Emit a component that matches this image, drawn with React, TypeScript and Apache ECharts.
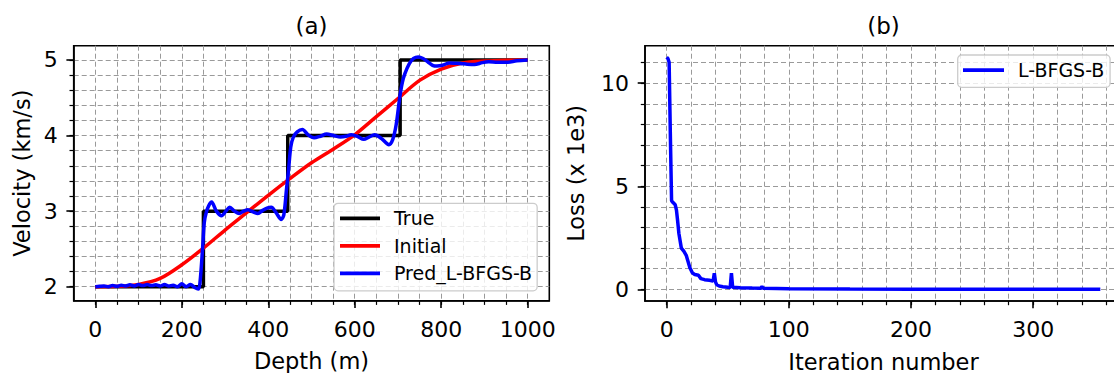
import React, { useEffect, useRef } from "react";
import * as echarts from "echarts";

// ---------- data ----------
const depthTrue = [0, 250, 250, 445, 445, 705, 705, 1000];
const velTrue = [2, 2, 3, 3, 4, 4, 5, 5];

const depthInit = [0, 50, 100, 150, 200, 250, 300, 350, 400, 450, 500, 550, 600, 650, 700, 750, 800, 850, 900, 950, 1000];
const velInit = [2.0, 2.005, 2.03, 2.11, 2.29, 2.51, 2.75, 2.98, 3.21, 3.43, 3.64, 3.82, 4.01, 4.25, 4.49, 4.73, 4.88, 4.96, 4.985, 4.997, 5.0];

const depthPred = [0, 10, 20, 30, 40, 50, 60, 70, 80, 90, 100, 110, 120, 130, 140, 150, 160, 170, 180, 190, 200, 210, 220, 230, 238, 242, 248, 252, 257, 263, 269, 280, 292, 302, 311, 322, 333, 343, 353, 365, 376, 387, 397, 407, 418, 430, 436, 442, 447, 452, 458, 467, 479, 492, 506, 520, 535, 551, 567, 580, 592, 606, 621, 633, 646, 662, 679, 688, 696, 704, 710, 716, 726, 736, 747, 758, 770, 780, 790, 803, 819, 844, 860, 877, 895, 910, 930, 951, 975, 1000];
const velPred = [2.0, 2.005, 2.01, 2.0, 2.015, 2.005, 2.02, 2.01, 2.025, 2.01, 2.03, 2.015, 2.03, 2.015, 2.025, 2.01, 2.03, 2.01, 2.02, 2.0, 2.04, 2.0, 2.03, 1.99, 1.97, 2.05, 2.5, 2.85, 2.99, 3.08, 3.12, 3.0, 2.94, 3.0, 3.05, 3.0, 2.97, 3.0, 3.02, 2.99, 2.97, 3.01, 3.04, 3.05, 2.98, 2.89, 2.95, 3.28, 3.55, 3.85, 3.98, 4.05, 4.08, 4.01, 3.97, 3.99, 4.02, 4.0, 3.98, 3.99, 4.01, 3.99, 3.95, 3.98, 4.01, 3.96, 3.88, 3.95, 4.15, 4.5, 4.7, 4.82, 4.95, 5.02, 5.04, 5.02, 4.97, 4.93, 4.92, 4.93, 4.96, 4.955, 4.945, 4.94, 4.965, 4.975, 4.97, 4.97, 4.99, 5.0];

const iterations = [0, 1, 2, 3, 4, 5, 7, 8, 9, 10, 12, 14, 16, 17, 19, 21, 23, 26, 28, 31, 35, 38, 39, 40, 41, 43, 46, 50, 52, 53, 54, 60, 70, 77, 78, 79, 90, 100, 150, 200, 250, 300, 355];
const loss = [11.26, 11.2, 11.02, 7.5, 4.3, 4.22, 4.1, 3.84, 3.3, 2.71, 2.0, 1.85, 1.65, 1.45, 1.05, 0.8, 0.72, 0.68, 0.52, 0.47, 0.44, 0.4, 0.78, 0.35, 0.22, 0.16, 0.13, 0.1, 0.09, 0.78, 0.1, 0.08, 0.06, 0.05, 0.13, 0.05, 0.04, 0.03, 0.015, 0.01, 0.008, 0.005, 0.004];

// major tick labels
const xTicksA = [0, 200, 400, 600, 800, 1000];
const yTicksA = [2, 3, 4, 5];
const xTicksB = [0, 100, 200, 300];
const yTicksB = [0, 5, 10];

// minor tick / grid positions (start, stop, step)
const range = (a: number, b: number, s: number) => {
  const out: number[] = [];
  for (let i = 0; a + i * s <= b + 1e-9; i++) out.push(Math.round((a + i * s) * 1000) / 1000);
  return out;
};
const xMinorA = range(0, 1000, 50);
const yMinorA = range(2, 5, 0.2);
const xMinorB = range(0, 360, 20);
const yMinorB = range(0, 11, 1);

// ---------- styles ----------
const FONT = "DejaVu Sans";
const TICK_FS = 22;
const LABEL_FS = 22.5;
const TITLE_FS = 23;
const LEGEND_FS = 19;
const LW = 3.5;

const zip = (xs: number[], ys: number[]) => xs.map((x, i) => [x, ys[i]]);

function mainAxis(o: {
  gridIndex: number; min: number; max: number; ticks: number[];
  name: string; nameGap: number; position: string; margin: number;
}) {
  return {
    type: "value",
    gridIndex: o.gridIndex,
    position: o.position,
    min: o.min,
    max: o.max,
    axisLine: { show: true, onZero: false, lineStyle: { color: "#000", width: 1.6 } },
    axisTick: { show: true, customValues: o.ticks, length: 7.3, lineStyle: { color: "#000", width: 1.6 } },
    axisLabel: {
      show: true, customValues: o.ticks, margin: o.margin, color: "#000", fontSize: TICK_FS, fontFamily: FONT,
      formatter: (v: number) => String(v),
    },
    splitLine: { show: false },
    name: o.name,
    nameLocation: "middle",
    nameGap: o.nameGap,
    nameTextStyle: { color: "#000", fontSize: LABEL_FS, fontFamily: FONT },
  };
}

function minorAxis(o: { gridIndex: number; min: number; max: number; ticks: number[]; position: string }) {
  return {
    type: "value",
    gridIndex: o.gridIndex,
    position: o.position,
    min: o.min,
    max: o.max,
    axisLine: { show: false, onZero: false },
    axisTick: { show: true, customValues: o.ticks, length: 4.2, lineStyle: { color: "#000", width: 1.2 } },
    axisLabel: { show: false },
    splitLine: { show: true, lineStyle: { color: "#9a9a9a", width: 1, type: [5, 3] } },
  };
}

const legendBase = {
  orient: "vertical",
  icon: "rect",
  itemWidth: 40,
  itemHeight: 3.8,
  borderColor: "#cccccc",
  borderWidth: 1.3,
  borderRadius: 4,
  backgroundColor: "rgba(255,255,255,0.8)",
  selectedMode: false,
  textStyle: { color: "#000", fontSize: LEGEND_FS, fontFamily: FONT, padding: [0, 0, 0, 9] },
};

export default function App() {
  const ref = useRef<HTMLDivElement>(null);

  useEffect(() => {
    if (!ref.current) return;
    const chart = echarts.init(ref.current, null, { renderer: "svg" });
    const option = {
      animation: false,
      backgroundColor: "#fff",
      grid: [
        { left: 73.7, top: 45.7, width: 475.6, height: 255, outerBoundsMode: "none", containLabel: false, show: true, borderColor: "#000", borderWidth: 1.6, backgroundColor: "transparent" },
        { left: 645, top: 45.7, width: 477, height: 255.3, outerBoundsMode: "none", containLabel: false, show: true, borderColor: "#000", borderWidth: 1.6, backgroundColor: "transparent" },
      ],
      xAxis: [
        mainAxis({ gridIndex: 0, min: -50, max: 1050, ticks: xTicksA, name: "Depth (m)", nameGap: 49, position: "bottom", margin: 17.5 }),
        minorAxis({ gridIndex: 0, min: -50, max: 1050, ticks: xMinorA, position: "bottom" }),
        mainAxis({ gridIndex: 1, min: -17.75, max: 372.75, ticks: xTicksB, name: "Iteration number", nameGap: 49, position: "bottom", margin: 17.5 }),
        minorAxis({ gridIndex: 1, min: -17.75, max: 372.75, ticks: xMinorB, position: "bottom" }),
      ],
      yAxis: [
        mainAxis({ gridIndex: 0, min: 1.815, max: 5.189, ticks: yTicksA, name: "Velocity (km/s)", nameGap: 40, position: "left", margin: 16 }),
        minorAxis({ gridIndex: 0, min: 1.815, max: 5.189, ticks: yMinorA, position: "left" }),
        mainAxis({ gridIndex: 1, min: -0.566, max: 11.82, ticks: yTicksB, name: "Loss (x 1e3)", nameGap: 57.5, position: "left", margin: 16 }),
        minorAxis({ gridIndex: 1, min: -0.566, max: 11.82, ticks: yMinorB, position: "left" }),
      ],
      legend: [
        {
          ...legendBase,
          data: ["True", "Initial", "Pred_L-BFGS-B"],
          left: 334,
          top: 203.3,
          itemGap: 8.5,
          padding: [5.5, 5, 8, 6],
        },
        {
          ...legendBase,
          data: ["L-BFGS-B"],
          left: 957.7,
          top: 55,
          itemWidth: 41,
          padding: [5.7, 5.7, 7.6, 5.3],
        },
      ],
      graphic: [
        { type: "text", x: 311.5, y: 26, style: { text: "(a)", fill: "#000", font: `${TITLE_FS}px '${FONT}'`, align: "center", verticalAlign: "middle" } },
        { type: "text", x: 883.5, y: 26, style: { text: "(b)", fill: "#000", font: `${TITLE_FS}px '${FONT}'`, align: "center", verticalAlign: "middle" } },
      ],
      series: [
        { type: "line", name: "True", xAxisIndex: 0, yAxisIndex: 0, data: zip(depthTrue, velTrue), symbol: "none", showSymbol: false, lineStyle: { color: "#000000", width: LW }, itemStyle: { color: "#000000" }, z: 3 },
        { type: "line", name: "Initial", xAxisIndex: 0, yAxisIndex: 0, data: zip(depthInit, velInit), symbol: "none", showSymbol: false, smooth: 0.3, lineStyle: { color: "#ff0000", width: LW }, itemStyle: { color: "#ff0000" }, z: 4 },
        { type: "line", name: "Pred_L-BFGS-B", xAxisIndex: 0, yAxisIndex: 0, data: zip(depthPred, velPred), symbol: "none", showSymbol: false, smooth: 0.3, lineStyle: { color: "#0000ff", width: LW }, itemStyle: { color: "#0000ff" }, z: 5 },
        { type: "line", name: "L-BFGS-B", xAxisIndex: 2, yAxisIndex: 2, data: zip(iterations, loss), symbol: "none", showSymbol: false, lineStyle: { color: "#0000ff", width: LW }, itemStyle: { color: "#0000ff" }, z: 5 },
      ],
    };
    chart.setOption(option as any);
    return () => chart.dispose();
  }, []);

  return (
    <div style={{ position: "absolute", left: 0, top: 0, width: 1114, height: 373, background: "#fff" }}>
      <div ref={ref} style={{ width: 1114, height: 373 }} />
    </div>
  );
}
